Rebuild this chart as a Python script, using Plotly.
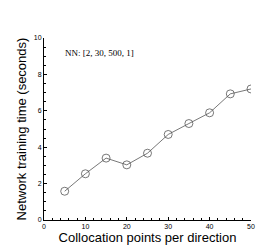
import plotly.graph_objects as go

points = [5, 10, 15, 20, 25, 30, 35, 40, 45, 50]
train_time = [1.58, 2.54, 3.40, 3.03, 3.67, 4.70, 5.30, 5.89, 6.93, 7.20]
x_ticks = [0, 10, 20, 30, 40, 50]
y_ticks = [0, 2, 4, 6, 8, 10]

fig = go.Figure()
fig.add_trace(go.Scatter(
    x=points, y=train_time, mode="lines+markers",
    line=dict(color="#555555", width=0.8),
    marker=dict(symbol="circle-open", size=8, color="#555555", line=dict(width=0.8)),
    showlegend=False,
))

axis_common = dict(
    showline=True, linecolor="black", linewidth=1, mirror=False,
    showgrid=False, zeroline=False, ticks="inside", ticklen=3, tickwidth=1,
    tickcolor="black", tickfont=dict(family="Arial, Liberation Sans", size=7, color="black"),
)
fig.update_xaxes(range=[0, 50], tickvals=x_ticks, ticktext=[str(v) for v in x_ticks],
                 minor=dict(dtick=2, ticks="inside", ticklen=2, tickcolor="black"),
                 title=dict(text="Collocation points per direction", standoff=2,
                            font=dict(family="Arial, Liberation Sans", size=13, color="black")),
                 **axis_common)
fig.update_yaxes(range=[0, 10], tickvals=y_ticks, ticktext=[str(v) for v in y_ticks],
                 minor=dict(dtick=0.5, ticks="inside", ticklen=2, tickcolor="black"),
                 title=dict(text="Network training time (seconds)", standoff=4,
                            font=dict(family="Arial, Liberation Sans", size=13, color="black")),
                 **axis_common)
fig.add_annotation(x=4.6, y=9.15, xref="x", yref="y", text="NN: [2, 30, 500, 1]",
                   showarrow=False, xanchor="left", yanchor="middle",
                   font=dict(family="Liberation Serif, Times New Roman", size=9, color="black"))
fig.update_layout(width=277, height=246, margin=dict(l=36, r=34, t=30, b=28),
                  plot_bgcolor="white", paper_bgcolor="white")
fig.write_html("out.html")
